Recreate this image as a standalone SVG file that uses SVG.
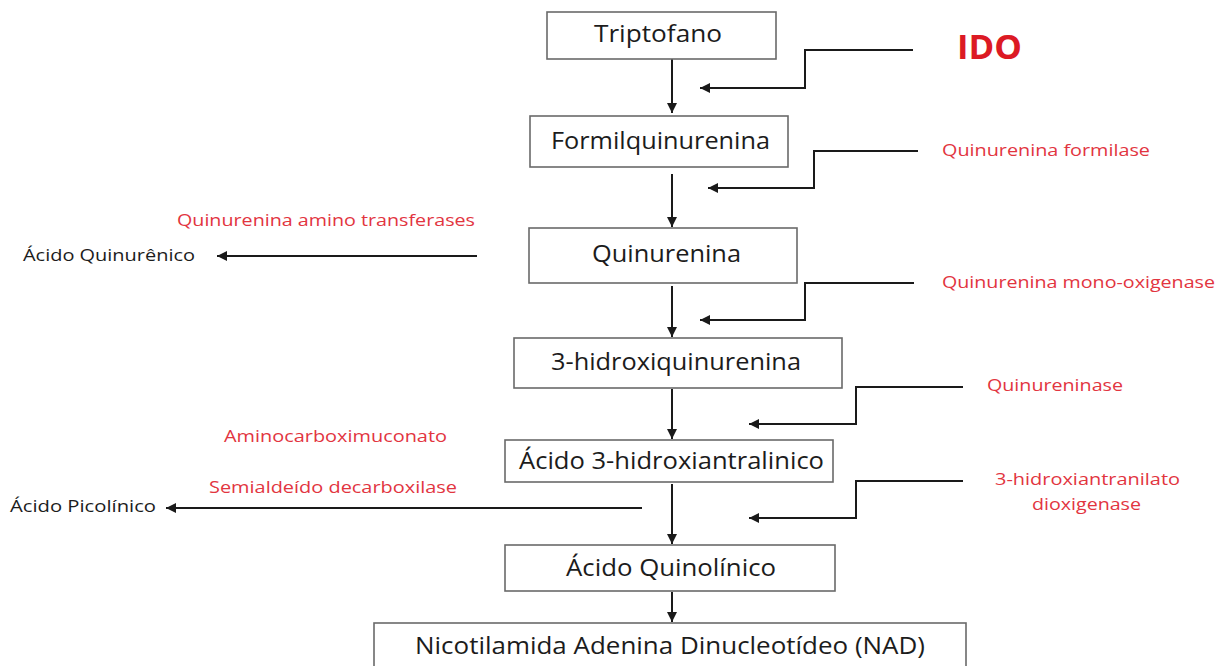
<svg xmlns="http://www.w3.org/2000/svg" width="1230" height="666" viewBox="0 0 1230 666">
<style>
.box{fill:#ffffff;stroke:#6a6a6a;stroke-width:1.6}
.t{font-family:"Open Sans","Liberation Sans",sans-serif;font-size:23px;fill:#1c1c1c;text-anchor:start}
.e{font-family:"Open Sans","Liberation Sans",sans-serif;font-size:16.5px;fill:#e2353f}
.s{font-family:"Open Sans","Liberation Sans",sans-serif;font-size:16.5px;fill:#1c1c1c}
.ido{font-family:"Open Sans","Liberation Sans",sans-serif;font-size:34px;font-weight:bold;fill:#dc1a24}
.c{fill:none;stroke:#1a1a1a;stroke-width:2}
</style>
<defs>
<marker id="ah" viewBox="0 0 10 10" refX="10" refY="5" markerWidth="10" markerHeight="10" markerUnits="userSpaceOnUse" orient="auto">
<path d="M0,0 L10,5 L0,10 z" fill="#1a1a1a"/>
</marker>
</defs>
<rect width="1230" height="666" fill="#ffffff"/>

<g id="connectors">
<path class="c" d="M672,59 V113" marker-end="url(#ah)"/>
<path class="c" d="M672,174 V227" marker-end="url(#ah)"/>
<path class="c" d="M672,286 V337" marker-end="url(#ah)"/>
<path class="c" d="M672,389 V439" marker-end="url(#ah)"/>
<path class="c" d="M672,484 V544" marker-end="url(#ah)"/>
<path class="c" d="M672,592 V622" marker-end="url(#ah)"/>
<path class="c" d="M913,50 H805 V88 H700" marker-end="url(#ah)"/>
<path class="c" d="M918,151 H814 V188 H708" marker-end="url(#ah)"/>
<path class="c" d="M914,283 H805 V320 H700" marker-end="url(#ah)"/>
<path class="c" d="M963,387 H856 V424 H749" marker-end="url(#ah)"/>
<path class="c" d="M963,481 H856 V518 H749" marker-end="url(#ah)"/>
<path class="c" d="M477,256 H217" marker-end="url(#ah)"/>
<path class="c" d="M642,508 H166" marker-end="url(#ah)"/>
</g>

<g id="triptofano">
<rect class="box" x="547" y="12" width="229" height="47"/>
<text class="t" x="594" y="42" textLength="128" lengthAdjust="spacingAndGlyphs">Triptofano</text>
</g>
<g id="formilquinurenina">
<rect class="box" x="530" y="116" width="258" height="51"/>
<text class="t" x="551" y="149" textLength="219" lengthAdjust="spacingAndGlyphs">Formilquinurenina</text>
</g>
<g id="quinurenina">
<rect class="box" x="529" y="228" width="268" height="55"/>
<text class="t" x="592" y="262" textLength="149" lengthAdjust="spacingAndGlyphs">Quinurenina</text>
</g>
<g id="hidroxiquinurenina">
<rect class="box" x="514" y="338" width="328" height="50"/>
<text class="t" x="551" y="370" textLength="250" lengthAdjust="spacingAndGlyphs">3-hidroxiquinurenina</text>
</g>
<g id="hidroxiantralinico">
<rect class="box" x="505" y="440" width="328" height="42"/>
<text class="t" x="519" y="469" textLength="305" lengthAdjust="spacingAndGlyphs">Ácido 3-hidroxiantralinico</text>
</g>
<g id="quinolinico">
<rect class="box" x="505" y="545" width="330" height="46"/>
<text class="t" x="566" y="576" textLength="210" lengthAdjust="spacingAndGlyphs">Ácido Quinolínico</text>
</g>
<g id="nad">
<rect class="box" x="374" y="623" width="592" height="80"/>
<text class="t" x="415" y="654" textLength="510" lengthAdjust="spacingAndGlyphs">Nicotilamida Adenina Dinucleotídeo (NAD)</text>
</g>

<g id="ido">
<text class="ido" x="957" y="59" textLength="65" lengthAdjust="spacingAndGlyphs">IDO</text>
</g>
<g id="formilase">
<text class="e" x="942" y="156" textLength="208" lengthAdjust="spacingAndGlyphs">Quinurenina formilase</text>
</g>
<g id="aminotransferases">
<text class="e" x="177" y="226" textLength="298" lengthAdjust="spacingAndGlyphs">Quinurenina amino transferases</text>
</g>
<g id="quinurenico">
<text class="s" x="23" y="261" textLength="172" lengthAdjust="spacingAndGlyphs">Ácido Quinurênico</text>
</g>
<g id="monooxigenase">
<text class="e" x="942" y="288" textLength="273" lengthAdjust="spacingAndGlyphs">Quinurenina mono-oxigenase</text>
</g>
<g id="quinureninase">
<text class="e" x="987" y="391" textLength="136" lengthAdjust="spacingAndGlyphs">Quinureninase</text>
</g>
<g id="aminocarboximuconato">
<text class="e" x="224" y="442" textLength="223" lengthAdjust="spacingAndGlyphs">Aminocarboximuconato</text>
<text class="e" x="209" y="493" textLength="248" lengthAdjust="spacingAndGlyphs">Semialdeído decarboxilase</text>
</g>
<g id="picolinico">
<text class="s" x="10" y="512" textLength="146" lengthAdjust="spacingAndGlyphs">Ácido Picolínico</text>
</g>
<g id="dioxigenase">
<text class="e" x="995" y="485" textLength="185" lengthAdjust="spacingAndGlyphs">3-hidroxiantranilato</text>
<text class="e" x="1032" y="510" textLength="109" lengthAdjust="spacingAndGlyphs">dioxigenase</text>
</g>
</svg>
